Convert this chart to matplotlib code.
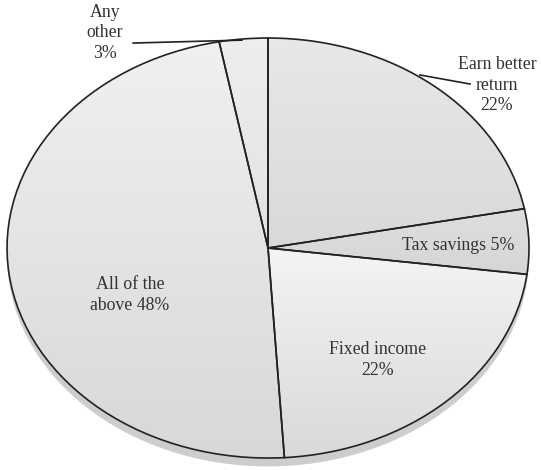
import numpy as np
import matplotlib.pyplot as plt
from matplotlib.patches import Ellipse

# share of respondents by reason for investing
reasons = ['Earn better\nreturn\n22%', 'Tax savings 5%', 'Fixed income\n22%',
           'All of the\nabove 48%', 'Any\nother\n3%']
shares = [22, 5, 22, 48, 3]

# top / bottom shade of each slice
top_shades = ['#e8e8ea', '#dedee0', '#f4f4f4', '#f0f0f1', '#eeeeef']
bottom_shades = ['#d9d9db', '#d6d6d8', '#d9d9db', '#d8d8da', '#e2e2e4']


def shade_wedge(ax, wedge, c_top, c_bot):
    # vertical gradient clipped to the wedge outline
    t = np.array(plt.matplotlib.colors.to_rgb(c_top))
    b = np.array(plt.matplotlib.colors.to_rgb(c_bot))
    ext = wedge.get_path().get_extents(wedge.get_patch_transform())
    ramp = np.linspace(0, 1, 256)[:, None, None]
    img = t * (1 - ramp) + b * ramp
    img = np.repeat(img, 2, axis=1)
    im = ax.imshow(img, extent=[ext.x0, ext.x1, ext.y0, ext.y1], origin='upper',
                   aspect='auto', zorder=1, interpolation='bilinear')
    im.set_clip_path(wedge)


def draw_chart():
    fig = plt.figure(figsize=(5.41, 4.70), dpi=100)
    ax = fig.add_axes([0, 0, 1, 1])
    plt.rcParams['font.family'] = 'Liberation Serif'

    # drop shadow under the pie
    ax.add_patch(Ellipse((0.0, -0.04), 2.0, 2.0, facecolor='#cdcdcf',
                         edgecolor='none', zorder=0))

    wedges, _ = ax.pie(shares, startangle=90, counterclock=False, radius=1,
                       wedgeprops=dict(edgecolor='#222222', linewidth=1.2,
                                       facecolor='none', zorder=2))
    for w, ct, cb in zip(wedges, top_shades, bottom_shades):
        shade_wedge(ax, w, ct, cb)

    txt = dict(fontsize=12.8, color='#333333', ha='center', va='center',
               linespacing=1.3, zorder=3)
    ax.text(0.877, 0.776, reasons[0], **txt)
    ax.text(0.728, 0.01, reasons[1], **txt)
    ax.text(0.42, -0.533, reasons[2], **txt)
    ax.text(-0.529, -0.224, reasons[3], **txt)
    ax.text(-0.625, 1.024, reasons[4], **txt)

    # leader lines for the outside labels
    ax.plot([0.774, 0.582], [0.781, 0.824], color='#222222', lw=1.2, zorder=3)
    ax.plot([-0.517, -0.10], [0.976, 0.99], color='#222222', lw=1.2, zorder=3)

    ax.set_aspect('auto')
    ax.set_xlim(-1.027, 1.046)
    ax.set_ylim(-1.057, 1.181)
    ax.axis('off')
    fig.savefig('out.png', dpi=100)


if __name__ == '__main__':
    draw_chart()
